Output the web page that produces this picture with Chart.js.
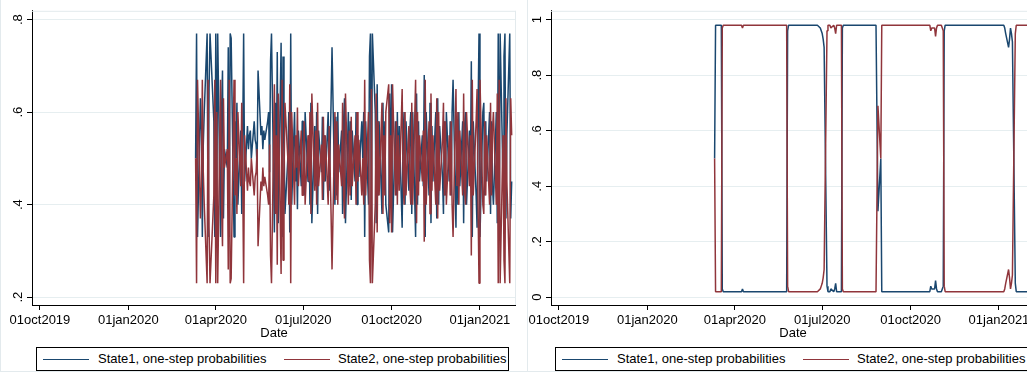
<!DOCTYPE html>
<html>
<head>
<meta charset="utf-8">
<title>State probabilities</title>
<script src="https://cdn.jsdelivr.net/npm/chart.js"></script>
<style>
  body { margin: 0; width: 1027px; height: 375px; overflow: hidden; background: #fff; position: relative;
         font-family: "Liberation Sans", Arial, sans-serif; font-size: 13px; color: #000; }
  .frame { position: absolute; top: -1px; width: 600px; height: 372px;
           border-left: 1px solid #e3eaed; border-bottom: 1px solid #e3eaed; }
  canvas { position: absolute; top: 0; }
  .xtitle { position: absolute; top: 325px; width: 60px; margin-left: -30px; text-align: center; line-height: 15px; }
  .legend { position: absolute; top: 347px; width: 471px; height: 22px; border: 1px solid #000; white-space: nowrap; }
  .legend .key { position: absolute; top: 11px; width: 46px; height: 1px; }
  .legend .lbl { position: absolute; top: 0; line-height: 22px; }
</style>
</head>
<body>
<div class="frame" style="left:0"></div>
<div class="frame" style="left:527px"></div>
<canvas id="panelA" width="516" height="340" style="left:0"></canvas>
<canvas id="panelB" width="516" height="340" style="left:519px"></canvas>
<div class="xtitle" style="left:274px">Date</div>
<div class="xtitle" style="left:793px">Date</div>
<div class="legend" style="left:36px">
  <span class="key" style="left:6px; background:#1a476f"></span><span class="lbl" style="left:61px">State1, one-step probabilities</span>
  <span class="key" style="left:247px; background:#90353b"></span><span class="lbl" style="left:301px">State2, one-step probabilities</span>
</div>
<div class="legend" style="left:555px">
  <span class="key" style="left:6px; background:#1a476f"></span><span class="lbl" style="left:61px">State1, one-step probabilities</span>
  <span class="key" style="left:247px; background:#90353b"></span><span class="lbl" style="left:301px">State2, one-step probabilities</span>
</div>

<script>
// first trading day of the sample; one value per weekday after it
var firstDate = "2020-03-11";

var xTickDates = ["2019-10-01", "2020-01-01", "2020-04-01", "2020-07-01", "2020-10-01", "2021-01-01"];
var xTickLabels = ["01oct2019", "01jan2020", "01apr2020", "01jul2020", "01oct2020", "01jan2021"];

var leftYTicks = [0.2, 0.4, 0.6, 0.8];
var leftYLabels = [".2", ".4", ".6", ".8"];
var rightYTicks = [0, 0.2, 0.4, 0.6, 0.8, 1];
var rightYLabels = ["0", ".2", ".4", ".6", ".8", "1"];

// left panel, state 1 (one row per month, Mar 2020 .. Feb 2021)
var stepProbA1 = [
  0.50, 0.77, 0.33, 0.63, 0.56, 0.33, 0.53, 0.60, 0.77, 0.33, 0.65, 0.77, 0.77, 0.58, 0.33,
  0.77, 0.40, 0.77, 0.33, 0.60, 0.69, 0.37, 0.52, 0.48, 0.74, 0.33, 0.77, 0.76, 0.33, 0.58, 0.50, 0.62, 0.40, 0.56, 0.38, 0.54, 0.77,
  0.45, 0.57, 0.52, 0.55, 0.56, 0.50, 0.58, 0.54, 0.53, 0.48, 0.69, 0.55, 0.57, 0.52, 0.56, 0.54, 0.58, 0.60, 0.47, 0.71, 0.77,
  0.34, 0.62, 0.45, 0.73, 0.36, 0.75, 0.33, 0.72, 0.55, 0.38, 0.50, 0.60, 0.34, 0.77, 0.40, 0.60, 0.45, 0.52, 0.39, 0.56, 0.44, 0.58,
  0.58, 0.42, 0.60, 0.45, 0.55, 0.40, 0.62, 0.36, 0.57, 0.44, 0.60, 0.38, 0.56, 0.47, 0.59, 0.41, 0.55, 0.45, 0.60, 0.43, 0.52, 0.62, 0.74,
  0.40, 0.59, 0.42, 0.60, 0.47, 0.56, 0.38, 0.58, 0.63, 0.36, 0.60, 0.44, 0.58, 0.41, 0.56, 0.45, 0.60, 0.40, 0.55, 0.46, 0.58,
  0.50, 0.60, 0.33, 0.58, 0.40, 0.72, 0.77, 0.35, 0.77, 0.60, 0.36, 0.66, 0.42, 0.58, 0.38, 0.62, 0.45, 0.58, 0.40, 0.34, 0.64, 0.45,
  0.66, 0.34, 0.58, 0.42, 0.60, 0.45, 0.57, 0.35, 0.55, 0.60, 0.40, 0.58, 0.43, 0.56, 0.60, 0.38, 0.60, 0.33, 0.64, 0.40, 0.58, 0.45,
  0.55, 0.44, 0.68, 0.33, 0.60, 0.42, 0.62, 0.36, 0.57, 0.45, 0.60, 0.37, 0.63, 0.40, 0.57, 0.46, 0.38, 0.58, 0.42, 0.60, 0.45,
  0.58, 0.42, 0.60, 0.67, 0.35, 0.56, 0.40, 0.60, 0.44, 0.58, 0.36, 0.57, 0.60, 0.40, 0.56, 0.45, 0.71, 0.33, 0.58, 0.42, 0.35, 0.60, 0.77,
  0.33, 0.60, 0.62, 0.42, 0.58, 0.45, 0.60, 0.38, 0.58, 0.44, 0.40, 0.60, 0.36, 0.77, 0.33, 0.77, 0.45, 0.72, 0.77, 0.37, 0.55,
  0.77, 0.37, 0.45
];

// left panel, state 2
var stepProbA2 = [
  0.50, 0.23, 0.67, 0.37, 0.44, 0.67, 0.47, 0.40, 0.23, 0.67, 0.35, 0.23, 0.23, 0.42, 0.67,
  0.23, 0.60, 0.23, 0.67, 0.40, 0.31, 0.63, 0.48, 0.52, 0.26, 0.67, 0.23, 0.24, 0.67, 0.42, 0.50, 0.38, 0.60, 0.44, 0.62, 0.46, 0.23,
  0.55, 0.43, 0.48, 0.45, 0.44, 0.50, 0.42, 0.46, 0.47, 0.52, 0.31, 0.45, 0.43, 0.48, 0.44, 0.46, 0.42, 0.40, 0.53, 0.29, 0.23,
  0.66, 0.38, 0.55, 0.27, 0.64, 0.25, 0.67, 0.28, 0.45, 0.62, 0.50, 0.40, 0.66, 0.23, 0.60, 0.40, 0.55, 0.48, 0.61, 0.44, 0.56, 0.42,
  0.42, 0.58, 0.40, 0.55, 0.45, 0.60, 0.38, 0.64, 0.43, 0.56, 0.40, 0.62, 0.44, 0.53, 0.41, 0.59, 0.45, 0.55, 0.40, 0.57, 0.48, 0.38, 0.26,
  0.60, 0.41, 0.58, 0.40, 0.53, 0.44, 0.62, 0.42, 0.37, 0.64, 0.40, 0.56, 0.42, 0.59, 0.44, 0.55, 0.40, 0.60, 0.45, 0.54, 0.42,
  0.50, 0.40, 0.67, 0.42, 0.60, 0.28, 0.23, 0.65, 0.23, 0.40, 0.64, 0.34, 0.58, 0.42, 0.62, 0.38, 0.55, 0.42, 0.60, 0.66, 0.36, 0.55,
  0.34, 0.66, 0.42, 0.58, 0.40, 0.55, 0.43, 0.65, 0.45, 0.40, 0.60, 0.42, 0.57, 0.44, 0.40, 0.62, 0.40, 0.67, 0.36, 0.60, 0.42, 0.55,
  0.45, 0.56, 0.32, 0.67, 0.40, 0.58, 0.38, 0.64, 0.43, 0.55, 0.40, 0.63, 0.37, 0.60, 0.43, 0.54, 0.62, 0.42, 0.58, 0.40, 0.55,
  0.42, 0.58, 0.40, 0.33, 0.65, 0.44, 0.60, 0.40, 0.56, 0.42, 0.64, 0.43, 0.40, 0.60, 0.44, 0.55, 0.29, 0.67, 0.42, 0.58, 0.65, 0.40, 0.23,
  0.67, 0.40, 0.38, 0.58, 0.42, 0.55, 0.40, 0.62, 0.42, 0.56, 0.60, 0.40, 0.64, 0.23, 0.67, 0.23, 0.55, 0.28, 0.23, 0.63, 0.45,
  0.23, 0.63, 0.55
];

// right panel, state 1
var stepProbB1 = [
  0.50, 0.98, 0.98, 0.98, 0.98, 0.98, 0.03, 0.02, 0.02, 0.02, 0.02, 0.02, 0.02, 0.02, 0.02,
  0.02, 0.02, 0.02, 0.02, 0.02, 0.02, 0.03, 0.02, 0.02, 0.02, 0.02, 0.02, 0.02, 0.02, 0.02, 0.02, 0.02, 0.02, 0.02, 0.02, 0.02, 0.02,
  0.02, 0.02, 0.02, 0.02, 0.02, 0.02, 0.02, 0.02, 0.02, 0.02, 0.02, 0.02, 0.02, 0.02, 0.02, 0.02, 0.02, 0.96, 0.98, 0.98, 0.98,
  0.98, 0.98, 0.98, 0.98, 0.98, 0.98, 0.98, 0.98, 0.98, 0.98, 0.98, 0.98, 0.98, 0.98, 0.98, 0.98, 0.98, 0.98, 0.98, 0.98, 0.97, 0.96,
  0.95, 0.93, 0.90, 0.04, 0.02, 0.02, 0.02, 0.03, 0.02, 0.03, 0.05, 0.02, 0.02, 0.02, 0.02, 0.97, 0.98, 0.98, 0.98, 0.98, 0.98, 0.98, 0.98,
  0.98, 0.98, 0.98, 0.98, 0.98, 0.98, 0.98, 0.98, 0.98, 0.98, 0.98, 0.98, 0.98, 0.98, 0.98, 0.98, 0.98, 0.98, 0.98, 0.31, 0.50,
  0.02, 0.02, 0.02, 0.02, 0.02, 0.02, 0.02, 0.02, 0.02, 0.02, 0.02, 0.02, 0.02, 0.02, 0.02, 0.02, 0.02, 0.02, 0.02, 0.02, 0.02, 0.02,
  0.02, 0.02, 0.02, 0.02, 0.02, 0.02, 0.02, 0.02, 0.02, 0.02, 0.02, 0.02, 0.02, 0.02, 0.02, 0.04, 0.03, 0.03, 0.06, 0.03, 0.02, 0.02,
  0.02, 0.03, 0.04, 0.96, 0.98, 0.98, 0.98, 0.98, 0.98, 0.98, 0.98, 0.98, 0.98, 0.98, 0.98, 0.98, 0.98, 0.98, 0.98, 0.98, 0.98,
  0.98, 0.98, 0.98, 0.98, 0.98, 0.98, 0.98, 0.98, 0.98, 0.98, 0.98, 0.98, 0.98, 0.98, 0.98, 0.98, 0.98, 0.98, 0.98, 0.98, 0.98, 0.98, 0.98,
  0.98, 0.98, 0.98, 0.98, 0.97, 0.95, 0.90, 0.93, 0.97, 0.95, 0.92, 0.05, 0.02, 0.02, 0.02, 0.02, 0.02, 0.02, 0.02, 0.02, 0.02,
  0.02, 0.02, 0.02
];

// right panel, state 2
var stepProbB2 = [
  0.50, 0.02, 0.02, 0.02, 0.02, 0.02, 0.97, 0.98, 0.98, 0.98, 0.98, 0.98, 0.98, 0.98, 0.98,
  0.98, 0.98, 0.98, 0.98, 0.98, 0.98, 0.97, 0.98, 0.98, 0.98, 0.98, 0.98, 0.98, 0.98, 0.98, 0.98, 0.98, 0.98, 0.98, 0.98, 0.98, 0.98,
  0.98, 0.98, 0.98, 0.98, 0.98, 0.98, 0.98, 0.98, 0.98, 0.98, 0.98, 0.98, 0.98, 0.98, 0.98, 0.98, 0.98, 0.04, 0.02, 0.02, 0.02,
  0.02, 0.02, 0.02, 0.02, 0.02, 0.02, 0.02, 0.02, 0.02, 0.02, 0.02, 0.02, 0.02, 0.02, 0.02, 0.02, 0.02, 0.02, 0.02, 0.02, 0.03, 0.04,
  0.05, 0.07, 0.10, 0.96, 0.98, 0.98, 0.98, 0.97, 0.98, 0.97, 0.95, 0.98, 0.98, 0.98, 0.98, 0.03, 0.02, 0.02, 0.02, 0.02, 0.02, 0.02, 0.02,
  0.02, 0.02, 0.02, 0.02, 0.02, 0.02, 0.02, 0.02, 0.02, 0.02, 0.02, 0.02, 0.02, 0.02, 0.02, 0.02, 0.02, 0.02, 0.02, 0.69, 0.50,
  0.98, 0.98, 0.98, 0.98, 0.98, 0.98, 0.98, 0.98, 0.98, 0.98, 0.98, 0.98, 0.98, 0.98, 0.98, 0.98, 0.98, 0.98, 0.98, 0.98, 0.98, 0.98,
  0.98, 0.98, 0.98, 0.98, 0.98, 0.98, 0.98, 0.98, 0.98, 0.98, 0.98, 0.98, 0.98, 0.98, 0.98, 0.96, 0.97, 0.97, 0.94, 0.97, 0.98, 0.98,
  0.98, 0.97, 0.96, 0.04, 0.02, 0.02, 0.02, 0.02, 0.02, 0.02, 0.02, 0.02, 0.02, 0.02, 0.02, 0.02, 0.02, 0.02, 0.02, 0.02, 0.02,
  0.02, 0.02, 0.02, 0.02, 0.02, 0.02, 0.02, 0.02, 0.02, 0.02, 0.02, 0.02, 0.02, 0.02, 0.02, 0.02, 0.02, 0.02, 0.02, 0.02, 0.02, 0.02, 0.02,
  0.02, 0.02, 0.02, 0.02, 0.03, 0.05, 0.10, 0.07, 0.03, 0.05, 0.08, 0.95, 0.98, 0.98, 0.98, 0.98, 0.98, 0.98, 0.98, 0.98, 0.98,
  0.98, 0.98, 0.98
];

// days counted from 01oct2019
var origin = Date.UTC(2019, 9, 1);
function dayOf(iso) {
  var p = iso.split("-").map(Number);
  return (Date.UTC(p[0], p[1] - 1, p[2]) - origin) / 864e5;
}
function weekdays(startIso, n) {
  var out = [];
  var d = dayOf(startIso);
  while (out.length < n) {
    var wd = new Date(origin + d * 864e5).getUTCDay();
    if (wd !== 0 && wd !== 6) out.push(d);
    d++;
  }
  return out;
}

var xDays = weekdays(firstDate, stepProbA1.length);
var xTickDays = xTickDates.map(dayOf);

Chart.defaults.font.family = '"Liberation Sans", Arial, sans-serif';
Chart.defaults.font.size = 13;
Chart.defaults.color = "#000";

// faint outline on the top and right of the plot region
var plotOutline = {
  id: "plotOutline",
  beforeDatasetsDraw: function (chart) {
    var a = chart.chartArea, ctx = chart.ctx;
    ctx.save();
    ctx.strokeStyle = "#e3eaed";
    ctx.lineWidth = 1;
    ctx.beginPath();
    ctx.moveTo(a.left, a.top + 0.5);
    ctx.lineTo(a.right, a.top + 0.5);
    ctx.moveTo(a.right - 0.5, a.top);
    ctx.lineTo(a.right - 0.5, a.bottom);
    ctx.stroke();
    ctx.restore();
  }
};

function makePanel(id, s1, s2, yMin, yMax, yTicks, yLabels) {
  function points(s) {
    return s.map(function (v, i) { return { x: xDays[i], y: v }; });
  }
  return new Chart(document.getElementById(id), {
    type: "line",
    data: {
      datasets: [
        // higher order is painted first, so state 2 ends up on top
        { label: "State1, one-step probabilities", data: points(s1), borderColor: "#1a476f", order: 2 },
        { label: "State2, one-step probabilities", data: points(s2), borderColor: "#90353b", order: 1 }
      ]
    },
    options: {
      responsive: false,
      animation: false,
      events: [],
      layout: { padding: { top: 5, left: 0, right: 0, bottom: 0 } },
      plugins: { legend: { display: false }, tooltip: { enabled: false } },
      elements: {
        point: { radius: 0 },
        line: { borderWidth: 1.5, tension: 0, borderJoinStyle: "bevel", fill: false }
      },
      scales: {
        x: {
          type: "linear",
          min: -8.3,
          max: 495.5,
          afterBuildTicks: function (s) { s.ticks = xTickDays.map(function (v) { return { value: v }; }); },
          afterFit: function (s) { s.height = 35; },
          ticks: { autoSkip: false, maxRotation: 0, padding: 3, color: "#000",
                   callback: function (v, i) { return xTickLabels[i]; } },
          grid: { drawOnChartArea: false, tickLength: 5, tickColor: "#000" },
          border: { color: "#000", width: 1 }
        },
        y: {
          min: yMin,
          max: yMax,
          afterBuildTicks: function (s) { s.ticks = yTicks.map(function (v) { return { value: v }; }); },
          afterFit: function (s) { s.width = 32; },
          ticks: { minRotation: 90, maxRotation: 90, crossAlign: "center", padding: 3, color: "#000",
                   callback: function (v, i) { return yLabels[i]; } },
          grid: { color: "#e6eef0", tickLength: 5, tickColor: "#000" },
          border: { color: "#000", width: 1 }
        }
      }
    },
    plugins: [plotOutline]
  });
}

makePanel("panelA", stepProbA1, stepProbA2, 0.183, 0.819, leftYTicks, leftYLabels);
makePanel("panelB", stepProbB1, stepProbB2, -0.028, 1.032, rightYTicks, rightYLabels);
</script>
</body>
</html>
